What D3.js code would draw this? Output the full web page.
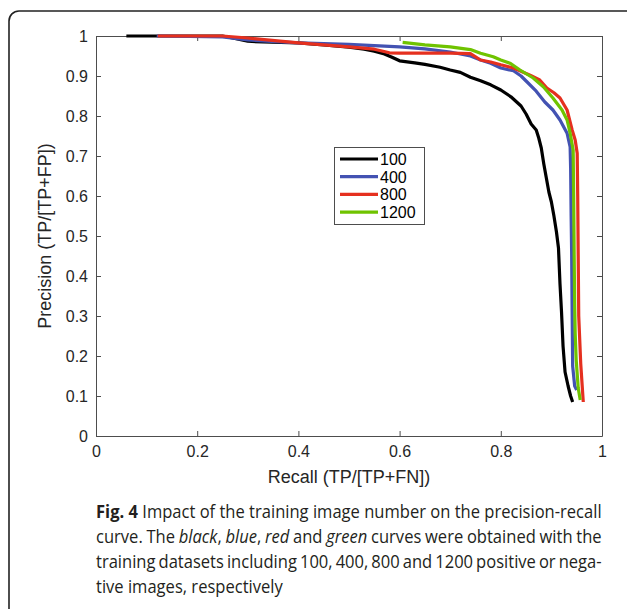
<!DOCTYPE html>
<html>
<head>
<meta charset="utf-8">
<script src="https://cdn.jsdelivr.net/npm/d3@7"></script>
</head>

<style>
body {
    margin: 0;
    background: #fff;
}
svg text {
    font-family: "Liberation Sans", Arial, sans-serif;
}
</style>

<body>
    <svg id="canvas"></svg>
</body>

<script>

// data (recall, precision)
const recall100 = [0.06, 0.25, 0.27, 0.30, 0.33, 0.40, 0.45, 0.50, 0.53, 0.55, 0.57, 0.585, 0.60, 0.63, 0.65, 0.68, 0.70, 0.72, 0.74, 0.76, 0.78, 0.80, 0.82, 0.84, 0.85, 0.86, 0.87, 0.875, 0.88, 0.885, 0.89, 0.895, 0.90, 0.905, 0.91, 0.914, 0.917, 0.92, 0.923, 0.927, 0.933, 0.938, 0.942];
const prec100   = [1.0, 1.0, 0.995, 0.987, 0.985, 0.983, 0.978, 0.972, 0.967, 0.962, 0.955, 0.947, 0.938, 0.933, 0.929, 0.922, 0.915, 0.909, 0.897, 0.888, 0.878, 0.865, 0.848, 0.825, 0.805, 0.78, 0.765, 0.745, 0.72, 0.68, 0.645, 0.61, 0.585, 0.55, 0.51, 0.47, 0.38, 0.31, 0.225, 0.16, 0.125, 0.10, 0.085];

const recall400 = [0.12, 0.25, 0.30, 0.40, 0.50, 0.60, 0.65, 0.70, 0.74, 0.76, 0.78, 0.80, 0.825, 0.84, 0.852, 0.87, 0.887, 0.903, 0.917, 0.931, 0.937, 0.938, 0.939, 0.940, 0.941, 0.942, 0.946, 0.950];
const prec400   = [1.0, 0.998, 0.99, 0.983, 0.979, 0.973, 0.968, 0.96, 0.95, 0.94, 0.932, 0.92, 0.913, 0.90, 0.885, 0.862, 0.835, 0.815, 0.79, 0.757, 0.723, 0.67, 0.55, 0.46, 0.31, 0.175, 0.125, 0.115];

const recall800 = [0.122, 0.25, 0.30, 0.40, 0.50, 0.55, 0.58, 0.60, 0.70, 0.74, 0.76, 0.78, 0.80, 0.825, 0.858, 0.877, 0.891, 0.905, 0.917, 0.931, 0.941, 0.947, 0.951, 0.952, 0.953, 0.954, 0.958, 0.963];
const prec800   = [1.0, 1.0, 0.995, 0.983, 0.973, 0.967, 0.958, 0.957, 0.957, 0.956, 0.94, 0.935, 0.928, 0.92, 0.902, 0.89, 0.87, 0.858, 0.845, 0.815, 0.765, 0.74, 0.707, 0.60, 0.45, 0.30, 0.18, 0.085];

const recall1200 = [0.606, 0.65, 0.70, 0.74, 0.76, 0.785, 0.80, 0.818, 0.838, 0.864, 0.884, 0.903, 0.921, 0.931, 0.937, 0.943, 0.944, 0.945, 0.946, 0.947, 0.949, 0.953, 0.957];
const prec1200   = [0.984, 0.978, 0.973, 0.966, 0.957, 0.948, 0.94, 0.932, 0.915, 0.895, 0.873, 0.845, 0.815, 0.79, 0.757, 0.715, 0.60, 0.45, 0.33, 0.257, 0.19, 0.12, 0.09];

const seriesNames  = ['100', '400', '800', '1200'];
const seriesColors = ['#000000', '#4352b2', '#e5301f', '#6fc300'];
const xTicks = [0, 0.2, 0.4, 0.6, 0.8, 1];
const yTicks = [0, 0.1, 0.2, 0.3, 0.4, 0.5, 0.6, 0.7, 0.8, 0.9, 1];

const W = 627, H = 609;
const PL = 96, PR = 602, PT = 36, PB = 436;

const svg = d3.select('svg#canvas')
    .attr('width', W)
    .attr('height', H);

// outer rounded frame (runs past the right and bottom edges)
svg.append('rect')
    .attr('x', 9).attr('y', 11)
    .attr('width', 700).attr('height', 700)
    .attr('rx', 10)
    .attr('fill', 'none')
    .attr('stroke', '#222')
    .attr('stroke-width', 1.6);

const x = d3.scaleLinear().domain([0, 1]).range([PL, PR]);
const y = d3.scaleLinear().domain([0, 1]).range([PB, PT]);

const axisG = svg.append('g');

function styleAxis(g) {
    g.select('.domain').attr('stroke', '#4d4d4d');
    g.selectAll('.tick line').attr('stroke', '#4d4d4d');
    g.selectAll('.tick text')
        .attr('fill', '#262626')
        .style('font-size', '16px')
        .style('font-family', '"Liberation Sans", Arial, sans-serif');
}

axisG.append('g')
    .attr('transform', `translate(0,${PB})`)
    .call(d3.axisBottom(x).tickValues(xTicks).tickFormat(d3.format('')).tickSizeInner(-5).tickSizeOuter(0).tickPadding(10))
    .call(styleAxis);
axisG.append('g')
    .attr('transform', `translate(0,${PT})`)
    .call(d3.axisTop(x).tickValues(xTicks).tickFormat('').tickSizeInner(-5).tickSizeOuter(0))
    .call(styleAxis);
axisG.append('g')
    .attr('transform', `translate(${PL},0)`)
    .call(d3.axisLeft(y).tickValues(yTicks).tickFormat(d3.format('')).tickSizeInner(-5).tickSizeOuter(0).tickPadding(8))
    .call(styleAxis);
axisG.append('g')
    .attr('transform', `translate(${PR},0)`)
    .call(d3.axisRight(y).tickValues(yTicks).tickFormat('').tickSizeInner(-5).tickSizeOuter(0))
    .call(styleAxis);

// curves
const series = [
    { r: recall100, p: prec100 },
    { r: recall400, p: prec400 },
    { r: recall800, p: prec800 },
    { r: recall1200, p: prec1200 }
];

const line = d3.line().x(d => x(d[0])).y(d => y(d[1]));

svg.append('g').selectAll('path')
    .data(series)
    .join('path')
    .attr('d', s => line(s.r.map((v, i) => [v, s.p[i]])))
    .attr('fill', 'none')
    .attr('stroke', (s, i) => seriesColors[i])
    .attr('stroke-width', 3.2)
    .attr('stroke-linejoin', 'round');

// axis labels
svg.append('text')
    .attr('x', (PL + PR) / 2)
    .attr('y', 483)
    .attr('text-anchor', 'middle')
    .attr('fill', '#262626')
    .style('font-size', '18px')
    .text('Recall (TP/[TP+FN])');

svg.append('text')
    .attr('transform', `translate(51,${(PT + PB) / 2}) rotate(-90)`)
    .attr('text-anchor', 'middle')
    .attr('fill', '#262626')
    .style('font-size', '18px')
    .text('Precision (TP/[TP+FP])');

// legend
const legend = svg.append('g');
legend.append('rect')
    .attr('x', 334.5).attr('y', 147.5)
    .attr('width', 90).attr('height', 77)
    .attr('fill', '#fff')
    .attr('stroke', '#4d4d4d')
    .attr('stroke-width', 1);

const rows = legend.selectAll('g.row')
    .data(seriesNames)
    .join('g')
    .attr('class', 'row')
    .attr('transform', (d, i) => `translate(0,${159 + i * 17.7})`);
rows.append('line')
    .attr('x1', 340).attr('x2', 378)
    .attr('stroke', (d, i) => seriesColors[i])
    .attr('stroke-width', 3.2);
rows.append('text')
    .attr('x', 380).attr('y', 6)
    .attr('fill', '#000')
    .style('font-size', '16px')
    .text(d => d);

// caption: squeeze glyphs horizontally, then justify lines 1-3 with word spacing
const capFont = '"Open Sans", "Noto Sans", sans-serif';
const captionLines = [
    [['Fig. 4', 'bold'], [' Impact of the training image number on the precision-recall', '']],
    [['curve. The ', ''], ['black', 'italic'], [', ', ''], ['blue', 'italic'], [', ', ''], ['red', 'italic'], [' and ', ''], ['green', 'italic'], [' curves were obtained with the', '']],
    [['training datasets including 100, 400, 800 and 1200 positive or nega-', '']],
    [['tive images, respectively', '']]
];

const capTexts = captionLines.map((parts, li) => {
    const t = svg.append('text')
        .attr('transform', `translate(96,${518 + li * 25})`)
        .attr('fill', '#231f20')
        .style('font-family', capFont)
        .style('font-size', '18px');
    parts.forEach(([str, st]) => {
        const ts = t.append('tspan').text(str);
        if (st === 'bold') ts.style('font-weight', 'bold');
        if (st === 'italic') ts.style('font-style', 'italic');
    });
    return t;
});

const natural = capTexts.map(t => t.node().getComputedTextLength());
const squeeze = 506 / natural[0];
capTexts.forEach((t, i) => {
    const spaces = captionLines[i].map(p => p[0]).join('').split(' ').length - 1;
    if (i > 0 && i < 3) {
        const gap = 506 / squeeze - natural[i];
        t.style('word-spacing', (gap / spaces) + 'px');
    }
    t.attr('transform', `translate(96,${518 + i * 25}) scale(${squeeze},1)`);
});

</script>
</html>
